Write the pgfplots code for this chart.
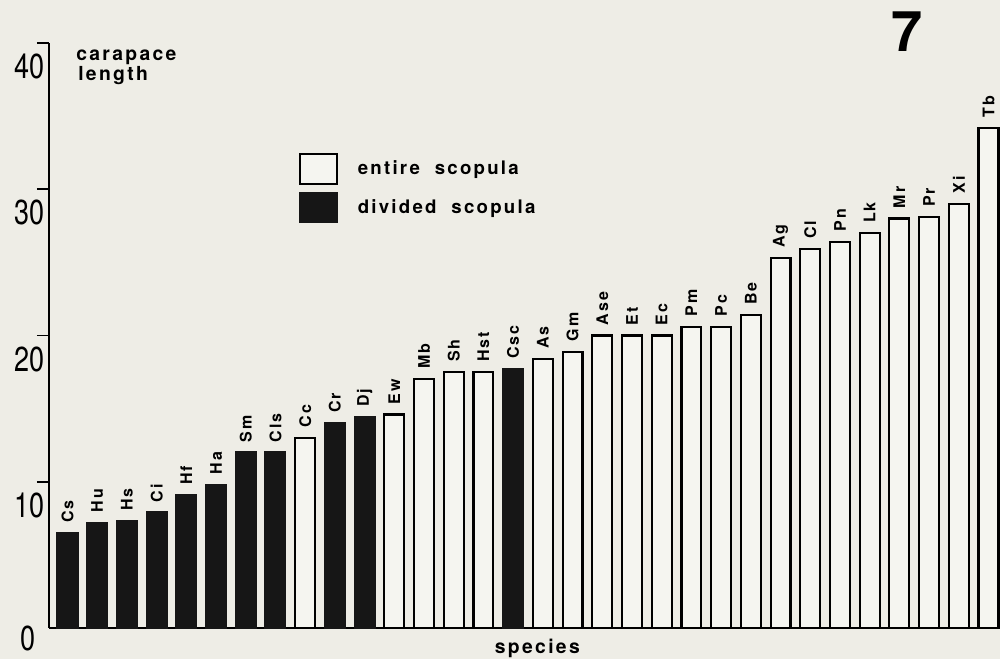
\documentclass[border=0pt]{standalone}
\usepackage{pgfplots}
\pgfplotsset{compat=1.18}
\usepackage{pgfplotstable}
\usepackage{fontspec}
\setmainfont{TeX Gyre Heros}
\newfontfamily\condfont[FakeStretch=0.78]{TeX Gyre Heros}
\newfontfamily\lblfont[LetterSpace=12]{TeX Gyre Heros}
\definecolor{bg}{RGB}{238,237,230}
\definecolor{barwhite}{RGB}{245,245,240}
\definecolor{barblack}{RGB}{22,22,22}

\pgfplotstableread{
x y label
0 6.5 Cs
1 7.2 Hu
2 7.3 Hs
3 7.9 Ci
4 9.1 Hf
5 9.8 Ha
6 12.0 Sm
7 12.0 Cls
9 14.0 Cr
10 14.4 Dj
15 17.7 Csc
}\blackbars

\pgfplotstableread{
x y label
8 13.0 Cc
11 14.6 Ew
12 17.0 Mb
13 17.5 Sh
14 17.5 Hst
16 18.4 As
17 18.9 Gm
18 20.0 Ase
19 20.0 Et
20 20.0 Ec
21 20.6 Pm
22 20.6 Pc
23 21.4 Be
24 25.3 Ag
25 25.9 Cl
26 26.4 Pn
27 27.0 Lk
28 28.0 Mr
29 28.1 Pr
30 29.0 Xi
31 34.2 Tb
}\whitebars

\begin{document}
\begin{tikzpicture}
\fill[bg] (0,0) rectangle (750pt,494.25pt);
\useasboundingbox (0,0) rectangle (750pt,494.25pt);
\begin{axis}[
  at={(36.75pt,23.25pt)}, anchor=south west,
  scale only axis, width=711.75pt, height=438.75pt,
  xmin=-0.623, xmax=31.32, ymin=0, ymax=40,
  enlargelimits=false, clip=false,
  axis lines=left, axis line style={-, line width=2.2pt, black},
  xtick=\empty,
  ytick={10,20,30,40},
  tick align=outside, major tick length=9pt,
  tick style={line width=1.2pt, black},
  /pgf/number format/assume math mode=true,
  yticklabel style={font=\condfont\fontsize{26}{26}\selectfont, anchor=north east, inner sep=0pt, xshift=6pt, yshift=-8pt},
  extra y ticks={0},
  extra y tick style={major tick length=0pt, yticklabel style={xshift=-15.75pt, yshift=9.5pt}},
  legend style={at={(axis cs:7.79,32.48)}, anchor=north west, draw=none, fill=none,
    inner sep=0pt, row sep=5.25pt, column sep=15pt, nodes={inner sep=0pt},
    font=\lblfont\bfseries\fontsize{14}{14}\selectfont},
  legend cell align=left,
  every node near coord/.append style={rotate=90, anchor=west, text=black, fill=none, draw=none,
    inner xsep=7pt, inner ysep=0pt, font=\lblfont\bfseries\fontsize{12}{12}\selectfont},
]
\addplot[ybar, bar width=0.67, bar shift=0pt, draw=black, line width=1.6pt, fill=barwhite,
  nodes near coords, point meta=explicit symbolic,
  legend image code/.code={\draw[line width=1.2pt, fill=barwhite] (0pt,-11.25pt) rectangle (27.75pt,11.25pt);}]
  table[x=x, y=y, meta=label]{\whitebars};
\addlegendentry{entire\ \ scopula}
\addplot[ybar, bar width=0.67, bar shift=0pt, draw=barblack, line width=1.6pt, fill=barblack,
  nodes near coords, point meta=explicit symbolic,
  legend image code/.code={\draw[line width=1.2pt, fill=barblack] (0pt,-11.25pt) rectangle (27.75pt,11.25pt);}]
  table[x=x, y=y, meta=label]{\blackbars};
\addlegendentry{divided\ \ scopula}
\end{axis}
\node[anchor=base west, inner sep=0pt, font=\lblfont\bfseries\fontsize{14.5}{14.5}\selectfont] at (57pt,448.5pt) {carapace};
\node[anchor=base west, inner sep=0pt, font=\lblfont\bfseries\fontsize{14.5}{14.5}\selectfont] at (58.5pt,433.5pt) {length};
\node[anchor=base, inner sep=0pt, font=\lblfont\bfseries\fontsize{14.5}{14.5}\selectfont] at (403pt,4pt) {species};
\node[anchor=base, inner sep=0pt, font=\bfseries\fontsize{42}{42}\selectfont] at (680pt,455.25pt) {7};
\end{tikzpicture}
\end{document}
